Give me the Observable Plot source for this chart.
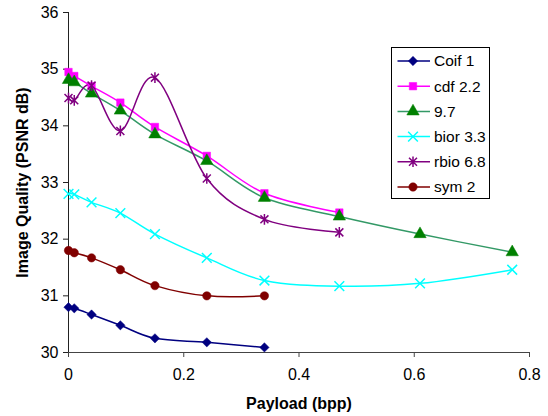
<!DOCTYPE html>
<html>
<head>
<meta charset="utf-8">
<script src="https://cdn.jsdelivr.net/npm/d3@7"></script>
<script src="https://cdn.jsdelivr.net/npm/@observablehq/plot@0.6"></script>
<style>
  body { margin: 0; background: #fff; }
  #wrap { position: relative; width: 548px; height: 416px; font-family: "Liberation Sans", Arial, sans-serif; }
  #legend { position: absolute; left: 0; top: 0; }
</style>
</head>
<body>
<div id="wrap"></div>
<script>
const payload = [0, 0.01, 0.04, 0.09, 0.15, 0.24, 0.34, 0.47, 0.61, 0.77];
const seriesNames = ["Coif 1", "cdf 2.2", "9.7", "bior 3.3", "rbio 6.8", "sym 2"];
const coif1 = [30.80, 30.78, 30.67, 30.48, 30.25, 30.18, 30.09];
const cdf22 = [34.95, 34.88, 34.70, 34.41, 33.98, 33.47, 32.81, 32.47];
const w97 = [34.81, 34.77, 34.57, 34.27, 33.85, 33.38, 32.73, 32.40, 32.09, 31.77];
const bior33 = [32.80, 32.79, 32.65, 32.46, 32.09, 31.67, 31.27, 31.17, 31.22, 31.46];
const rbio68 = [34.49, 34.45, 34.71, 33.91, 34.85, 33.07, 32.35, 32.12];
const sym2 = [31.80, 31.76, 31.67, 31.46, 31.18, 31.00, 31.00];
const xTicks = [0, 0.2, 0.4, 0.6, 0.8];
const yTicks = [30, 31, 32, 33, 34, 35, 36];

const asteriskX = {
  draw(ctx, size) {
    const r = Math.sqrt(size) * 0.6;
    const d = r * 0.75;
    ctx.moveTo(0, -r); ctx.lineTo(0, r);
    ctx.moveTo(-d, -d); ctx.lineTo(d, d);
    ctx.moveTo(-d, d); ctx.lineTo(d, -d);
  }
};

const styles = [
  {values: coif1, line: "#000080", marker: "#000080", symbol: "diamond2", r: 4.2, filled: true},
  {values: cdf22, line: "#FF00FF", marker: "#FF00FF", symbol: "square", r: 4.2, filled: true},
  {values: w97, line: "#339966", marker: "#008000", symbol: "triangle", r: 4.6, filled: true},
  {values: bior33, line: "#00FFFF", marker: "#00FFFF", symbol: "times", r: 4.5, filled: false},
  {values: rbio68, line: "#800080", marker: "#800080", symbol: asteriskX, r: 5, filled: false},
  {values: sym2, line: "#800000", marker: "#800000", symbol: "circle", r: 4.2, filled: true}
];

const series = styles.map((s, i) => ({
  ...s,
  name: seriesNames[i],
  data: s.values.map((v, j) => ({x: payload[j], y: v}))
}));

const marks = [
  Plot.ruleX([0], {stroke: "#222", strokeWidth: 1}),
  Plot.ruleY([30], {stroke: "#444", strokeWidth: 1.2}),
  Plot.axisX({ticks: xTicks, tickSize: 5, tickPadding: 11, fontSize: 16, label: null, stroke: "#444", tickFormat: d => String(d)}),
  Plot.axisY({ticks: yTicks, tickSize: 5, tickPadding: 5, fontSize: 16, label: null, stroke: "#222", tickFormat: d => String(d)}),
  Plot.text(["Payload (bpp)"], {frameAnchor: "bottom", dy: 51, fontWeight: "bold", fontSize: 16, lineAnchor: "middle", textAnchor: "middle", fill: "#000"}),
  Plot.text(["Image Quality (PSNR dB)"], {frameAnchor: "left", dx: -46, rotate: -90, fontWeight: "bold", fontSize: 16, lineAnchor: "middle", textAnchor: "middle", fill: "#000"})
];
for (const s of series) {
  marks.push(Plot.line(s.data, {x: "x", y: "y", curve: "cardinal", stroke: s.line, strokeWidth: 1.5}));
}
for (const s of series) {
  marks.push(Plot.dot(s.data, {
    x: "x", y: "y", symbol: s.symbol, r: s.r,
    fill: s.filled ? s.marker : "none",
    stroke: s.marker, strokeWidth: s.filled ? 0.5 : 1.5
  }));
}

const chart = Plot.plot({
  width: 548, height: 416,
  marginLeft: 68, marginRight: 19, marginTop: 12, marginBottom: 64,
  style: {fontFamily: "'Liberation Sans', Arial, sans-serif", fontSize: "16px", color: "#000", background: "#fff"},
  x: {domain: [0, 0.8]},
  y: {domain: [30, 36]},
  marks
});
document.getElementById("wrap").appendChild(chart);

// legend
const lg = d3.select("#wrap").append("svg").attr("id", "legend")
  .attr("width", 548).attr("height", 416)
  .style("font-family", "'Liberation Sans', Arial, sans-serif");
const box = {x: 391.5, y: 47.5, w: 98, h: 151};
lg.append("rect").attr("x", box.x).attr("y", box.y).attr("width", box.w).attr("height", box.h)
  .attr("fill", "#fff").attr("stroke", "#000").attr("stroke-width", 1);
const symMap = {diamond2: d3.symbolDiamond2, square: d3.symbolSquare, triangle: d3.symbolTriangle, times: d3.symbolTimes, circle: d3.symbolCircle};
series.forEach((s, i) => {
  const cy = 61 + i * 25.2;
  const g = lg.append("g").attr("transform", `translate(0,${cy})`);
  g.append("line").attr("x1", 397.5).attr("x2", 430).attr("y1", 0).attr("y2", 0)
    .attr("stroke", s.line).attr("stroke-width", 1.5);
  const sym = typeof s.symbol === "string" ? symMap[s.symbol] : s.symbol;
  g.append("path").attr("d", d3.symbol(sym, Math.PI * s.r * s.r)())
    .attr("transform", "translate(413,0)")
    .attr("fill", s.filled ? s.marker : "none").attr("stroke", s.marker)
    .attr("stroke-width", s.filled ? 0.5 : 1.5);
  g.append("text").attr("x", 434).attr("y", 0).attr("dy", "0.35em")
    .attr("font-size", 15.5).attr("fill", "#000").text(s.name);
});
</script>
</body>
</html>
